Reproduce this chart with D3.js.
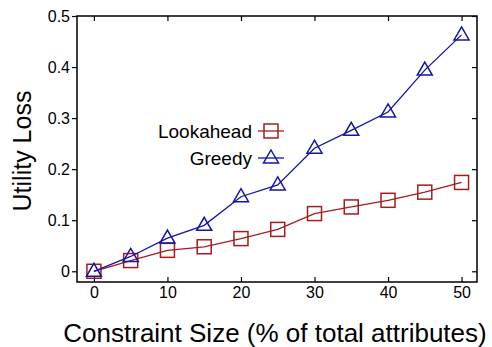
<!doctype html>
<html lang="en">
  <head>
    <meta charset="utf-8">
    <title>Utility loss</title>
    <script src="https://d3js.org/d3.v7.min.js"></script>
    <style>
      body { margin: 0; background: #fff; }
      text { font-family: "Liberation Sans", Arial, sans-serif; fill: #000; }
    </style>
  </head>
  <body>
    <div id="my_dataviz"></div>

    <script>
      // constraint size (% of total attributes)
      var sizes = [0, 5, 10, 15, 20, 25, 30, 35, 40, 45, 50];
      var lookahead = [0, 0.021, 0.041, 0.048, 0.064, 0.082, 0.113, 0.126, 0.139, 0.155, 0.174];
      var greedy = [0, 0.029, 0.065, 0.09, 0.146, 0.169, 0.241, 0.276, 0.312, 0.394, 0.463];
      var xTicks = [0, 10, 20, 30, 40, 50];
      var yTicks = [0, 0.1, 0.2, 0.3, 0.4, 0.5];
      var seriesNames = ["Lookahead", "Greedy"];

      var W = 492, H = 347;
      var margin = {top: 16, right: 15, bottom: 65, left: 77},
          width = W - margin.left - margin.right,
          height = H - margin.top - margin.bottom;

      var svg = d3.select("#my_dataviz")
        .append("svg")
          .attr("width", W)
          .attr("height", H)
        .append("g")
          .attr("transform", "translate(" + margin.left + "," + margin.top + ")");

      var x = d3.scaleLinear().domain([-2.3, 52.1]).range([0, width]);
      var y = d3.scaleLinear().domain([-0.021, 0.5]).range([height, 0]);

      // ticks: left outward, the other three sides inward
      svg.append("g")
        .attr("transform", "translate(0," + height + ")")
        .call(d3.axisBottom(x).tickValues(xTicks).tickSize(-5).tickPadding(5).tickFormat(d3.format("d")))
        .call(function(g) { g.select(".domain").remove(); })
        .selectAll("text").style("font-size", "16px");

      svg.append("g")
        .call(d3.axisLeft(y).tickValues(yTicks).tickSize(5).tickPadding(2)
          .tickFormat(function(d) { return d === 0 ? "0" : d3.format(".1f")(d); }))
        .call(function(g) { g.select(".domain").remove(); })
        .selectAll("text").style("font-size", "16px");

      svg.append("g")
        .call(d3.axisTop(x).tickValues(xTicks).tickSize(-5).tickFormat(""))
        .call(function(g) { g.select(".domain").remove(); });

      svg.append("g")
        .attr("transform", "translate(" + width + ",0)")
        .call(d3.axisRight(y).tickValues(yTicks).tickSize(-5).tickFormat(""))
        .call(function(g) { g.select(".domain").remove(); });

      svg.selectAll(".tick line").attr("stroke", "#000").attr("stroke-width", 1.2);

      svg.append("rect")
        .attr("width", width)
        .attr("height", height)
        .attr("fill", "none")
        .attr("stroke", "#000")
        .attr("stroke-width", 1.5);

      var colors = ["#a51c1c", "#1414a8"];
      var allSeries = [lookahead, greedy];

      function drawMarker(g, kind, color) {
        if (kind === 0) {
          g.append("rect")
            .attr("x", -7).attr("y", -7)
            .attr("width", 14).attr("height", 14)
            .attr("fill", "none").attr("stroke", color).attr("stroke-width", 1.5);
        } else {
          g.append("path")
            .attr("d", "M0,-8L7.5,5L-7.5,5Z")
            .attr("fill", "none").attr("stroke", color).attr("stroke-width", 1.5);
        }
      }

      allSeries.forEach(function(vals, k) {
        var data = sizes.map(function(s, i) { return {size: s, loss: vals[i]}; });
        svg.append("path")
          .datum(data)
          .attr("fill", "none")
          .attr("stroke", colors[k])
          .attr("stroke-width", 1.3)
          .attr("d", d3.line()
            .x(function(d) { return x(d.size); })
            .y(function(d) { return y(d.loss); }));

        data.forEach(function(d) {
          var m = svg.append("g")
            .attr("transform", "translate(" + x(d.size) + "," + y(d.loss) + ")");
          drawMarker(m, k, colors[k]);
        });
      });

      // legend
      var legend = svg.append("g");
      seriesNames.forEach(function(name, k) {
        var ly = 115 + k * 27;
        legend.append("text")
          .attr("x", 175)
          .attr("y", ly)
          .attr("dy", "0.35em")
          .attr("text-anchor", "end")
          .style("font-size", "19px")
          .text(name);
        legend.append("line")
          .attr("x1", 181).attr("x2", 207)
          .attr("y1", ly).attr("y2", ly)
          .attr("stroke", colors[k]).attr("stroke-width", 1.3);
        var m = legend.append("g").attr("transform", "translate(194," + ly + ")");
        drawMarker(m, k, colors[k]);
      });

      // axis titles
      svg.append("text")
        .attr("transform", "translate(" + (-margin.left + 31) + "," + (height / 2 + 2) + ") rotate(-90)")
        .attr("text-anchor", "middle")
        .style("font-size", "25px")
        .text("Utility Loss");

      svg.append("text")
        .attr("x", 198)
        .attr("y", height + 60)
        .attr("text-anchor", "middle")
        .style("font-size", "26px")
        .text("Constraint Size (% of total attributes)");
    </script>
  </body>
</html>
